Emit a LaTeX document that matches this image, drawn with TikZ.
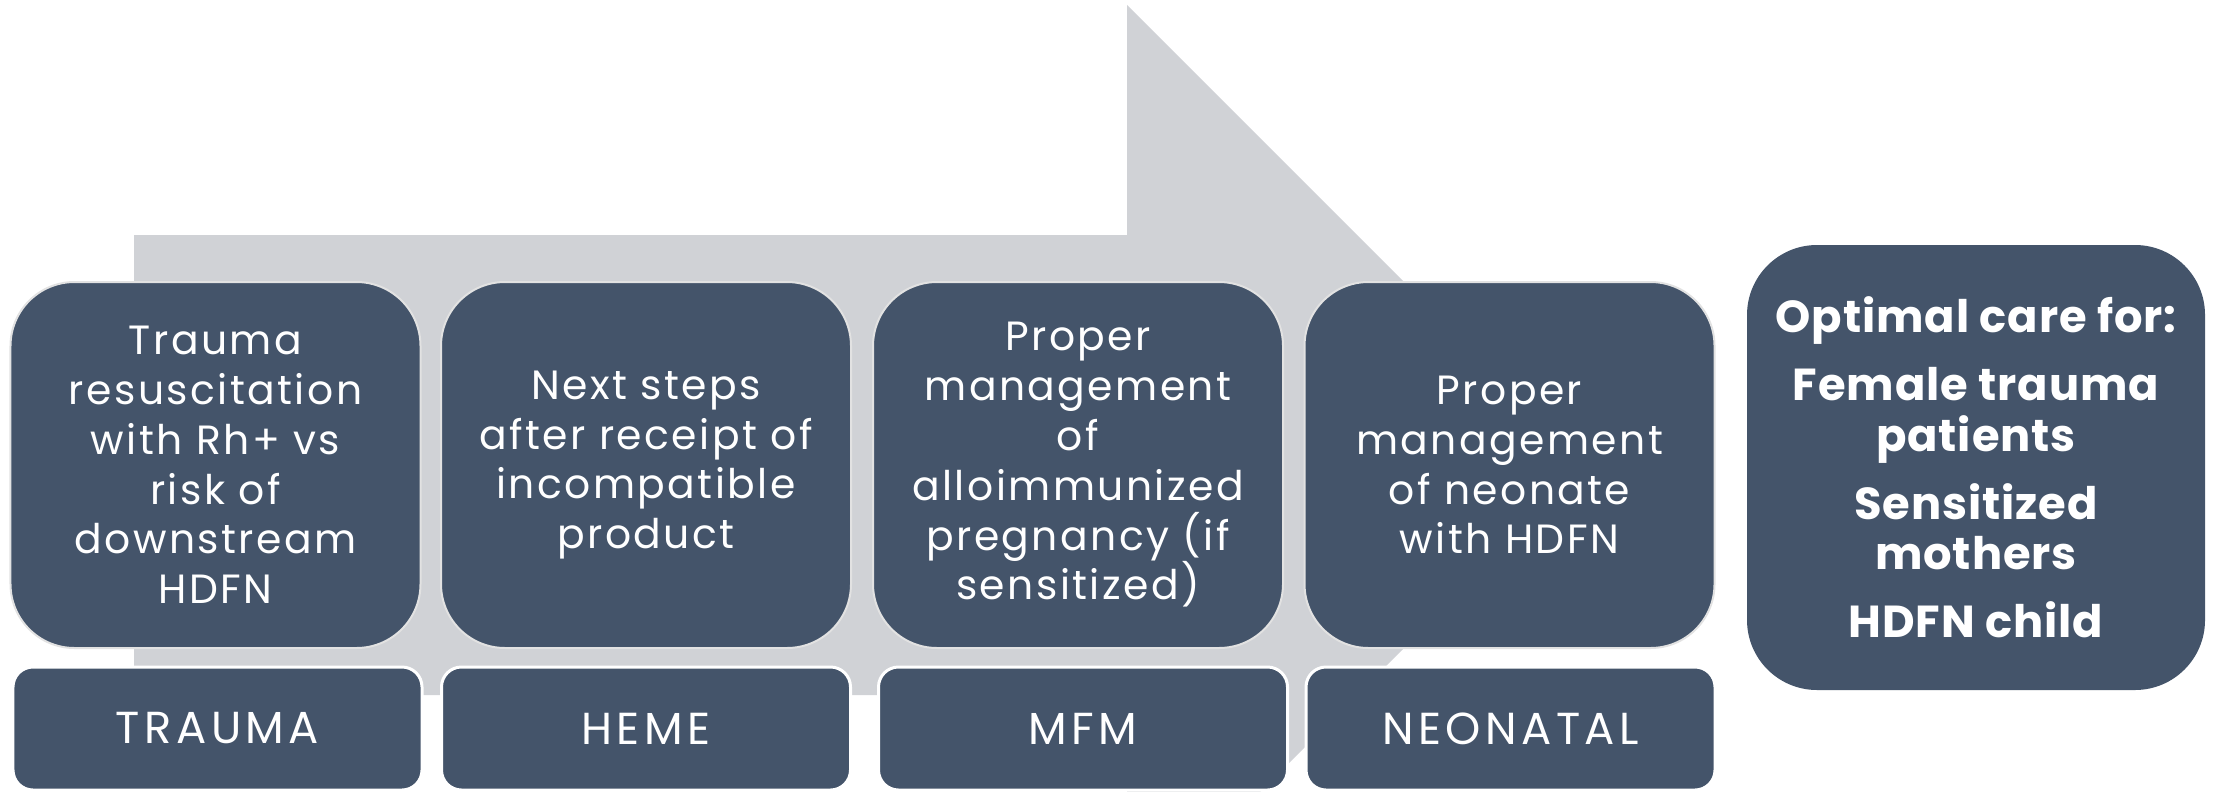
\documentclass[tikz,border=0pt]{standalone}
\usepackage{fontspec}
\setmainfont{Poppins}
\newfontfamily\stagefont[LetterSpace=6]{Poppins}
\newfontfamily\tagfont[LetterSpace=10]{Poppins}
\newfontfamily\goalfont[LetterSpace=2]{Poppins}
\definecolor{slate}{HTML}{44546A}
\definecolor{arrowgray}{HTML}{D0D2D6}
\definecolor{edgegray}{HTML}{E2E2E2}
\begin{document}
\begin{tikzpicture}[x=1bp,y=-1bp,
  every node/.style={inner sep=0pt, outer sep=0pt},
  stagebox/.style={fill=slate, draw=edgegray, line width=2bp, rounded corners=64bp,
    minimum width=410bp, minimum height=366bp, text=white, align=center,
    font=\stagefont\fontsize{41}{50}\selectfont},
  tagbox/.style={fill=slate, draw=white, line width=3bp, rounded corners=20bp,
    minimum width=409bp, minimum height=123bp, text=white,
    font=\tagfont\fontsize{45}{50}\selectfont},
  goalbox/.style={fill=slate, rounded corners=70bp,
    minimum width=458bp, minimum height=445bp, text=white, align=center,
    font=\goalfont\bfseries\fontsize{45}{51}\selectfont}]
\useasboundingbox (0,0) rectangle (2215,791);
\clip (0,0) rectangle (2215,791);

% background process arrow
\fill[arrowgray] (134,235) -- (1127,235) -- (1127,5) -- (1587,465)
  -- (1127,925) -- (1127,695) -- (134,695) -- cycle;

% stage descriptions
\node[stagebox] (s1) at (215.5,465) {Trauma\\resuscitation\\with Rh+ vs\\risk of\\downstream\\HDFN};
\node[stagebox] (s2) at (646,465) {Next steps\\after receipt of\\incompatible\\product};
\node[stagebox] (s3) at (1078,465) {Proper\\management\\of\\alloimmunized\\pregnancy (if\\sensitized)};
\node[stagebox] (s4) at (1509.5,465) {Proper\\management\\of neonate\\with HDFN};

% specialty tags
\node[tagbox] (t1) at (217.5,728.5) {TRAUMA};
\node[tagbox] (t2) at (646,728.5) {HEME};
\node[tagbox] (t3) at (1083,728.5) {MFM};
\node[tagbox] (t4) at (1510.5,728.5) {NEONATAL};

% outcome
\node[goalbox] (goal) at (1976,467.5) {Optimal care for:\\[17bp]Female trauma\\patients\\[17bp]Sensitized\\mothers\\[17bp]HDFN child};
\end{tikzpicture}
\end{document}
